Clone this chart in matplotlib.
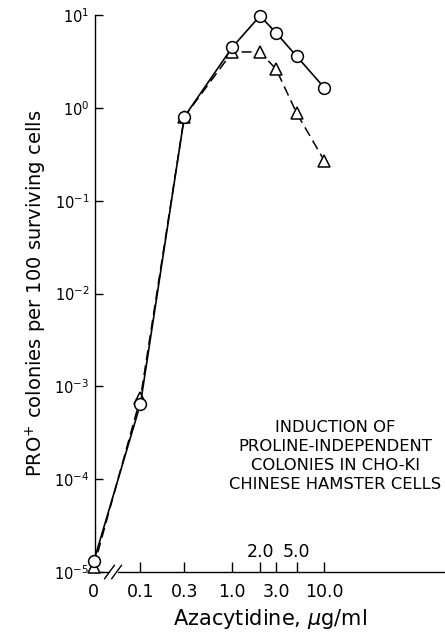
import numpy as np
import matplotlib
matplotlib.use("Agg")
from matplotlib import pyplot as plt
from matplotlib.ticker import NullLocator, FixedLocator, LogFormatterSciNotation

# doses in ug/ml; the 0 dose is drawn at the left edge of the log axis
dose = [0.0, 0.1, 0.3, 1.0, 2.0, 3.0, 5.0, 10.0]
circles = [1.3e-5, 6.5e-4, 0.8, 4.5, 9.8, 6.4, 3.6, 1.65]
triangles = [1.13e-5, 7.5e-4, 0.8, 4.0, 4.0, 2.6, 0.88, 0.27]

y_ticks = [1e-5, 1e-4, 1e-3, 1e-2, 1e-1, 1e0, 1e1]
below_ticks = [0.1, 0.3, 1.0, 3.0, 10.0]
below_labels = ["0.1", "0.3", "1.0", "3.0", "10.0"]
above_ticks = [2.0, 5.0]
above_labels = ["2.0", "5.0"]

ZERO_POS = 0.031
X_LEFT = 0.032
X_RIGHT = 206

plt.rcParams['font.family'] = ['DejaVu Sans']

fig = plt.figure(figsize=(4.45, 6.35), dpi=100)
ax = fig.add_axes([95 / 445, 63 / 635, 1 - 95 / 445, 557 / 635])

xs = [ZERO_POS if d == 0 else d for d in dose]

ax.plot(xs, circles, color='black', lw=1.2, ls='-', marker='o', ms=8.5,
        mfc='white', mec='black', mew=1.1, clip_on=False, zorder=4)
ax.plot(xs, triangles, color='black', lw=1.1, ls=(0, (6.5, 3.5)), marker='^', ms=9,
        mfc='white', mec='black', mew=1.1, clip_on=False, zorder=3)

ax.set_xscale('log')
ax.set_yscale('log')
ax.set_xlim(X_LEFT, X_RIGHT)
ax.set_ylim(1e-5, 1e1)

ax.spines['top'].set_visible(False)
ax.spines['right'].set_visible(False)
ax.spines['left'].set_linewidth(1.0)
ax.spines['bottom'].set_linewidth(1.0)

ax.yaxis.set_major_locator(FixedLocator(y_ticks))
ax.yaxis.set_major_formatter(LogFormatterSciNotation())
ax.yaxis.set_minor_locator(NullLocator())
ax.tick_params(axis='y', direction='in', length=6, width=1.0, labelsize=10.5, pad=4)

ax.xaxis.set_major_locator(FixedLocator(below_ticks + above_ticks))
ax.xaxis.set_minor_locator(NullLocator())
ax.tick_params(axis='x', direction='in', length=7, width=1.0, labelbottom=False)

for t, lab in zip(below_ticks, below_labels):
    ax.annotate(lab, (t, 0), xycoords=('data', 'axes fraction'), xytext=(0, -8),
                textcoords='offset points', ha='center', va='top', fontsize=12.5)
for t, lab in zip(above_ticks, above_labels):
    ax.annotate(lab, (t, 0), xycoords=('data', 'axes fraction'), xytext=(0, 8),
                textcoords='offset points', ha='center', va='bottom', fontsize=12.5)
ax.annotate("0", (ZERO_POS, 0), xycoords=('data', 'axes fraction'), xytext=(0, -8),
            textcoords='offset points', ha='center', va='top', fontsize=12.5)

# axis break marks
tr = ax.get_xaxis_transform()
ax.plot([0.0475, 0.0535], [0, 0], color='white', lw=3, transform=tr, clip_on=False, zorder=5)
for xb in [0.046, 0.055]:
    ax.plot([xb / 1.13, xb * 1.13], [-0.012, 0.012], color='black', lw=1.0,
            transform=tr, clip_on=False, zorder=6)

ax.set_ylabel("PRO$^{+}$ colonies per 100 surviving cells", fontsize=14, labelpad=4)
ax.set_xlabel("Azacytidine, $\\mu$g/ml", fontsize=15, labelpad=25)

ax.text(0.686, 0.208, "INDUCTION OF\nPROLINE-INDEPENDENT\nCOLONIES IN CHO-KI\nCHINESE HAMSTER CELLS",
        transform=ax.transAxes, ha='center', va='center', fontsize=11.8, linespacing=1.32)

fig.savefig("out.png", dpi=100)
